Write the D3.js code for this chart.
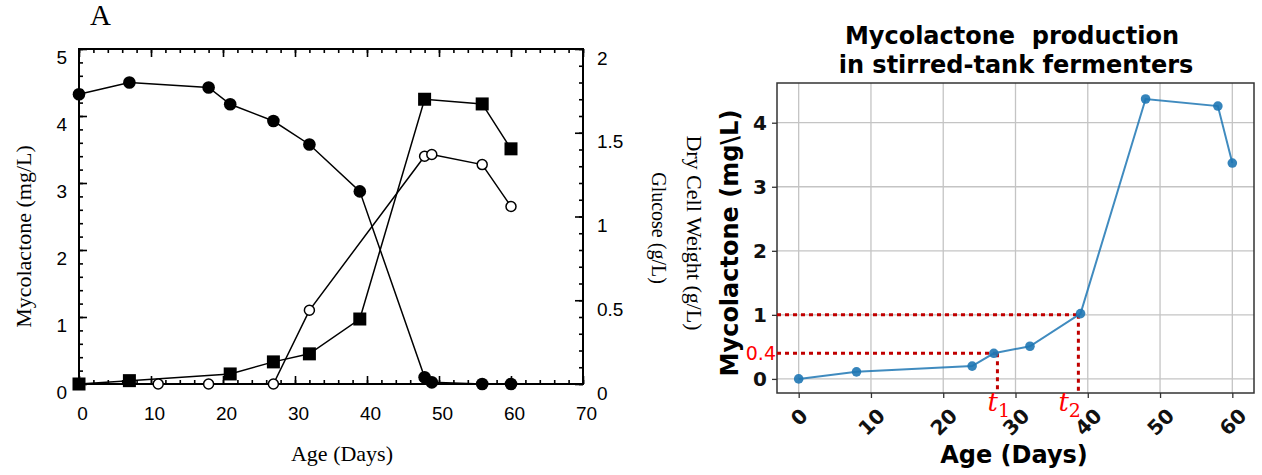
<!DOCTYPE html>
<html>
<head>
<meta charset="utf-8">
<script src="https://cdn.jsdelivr.net/npm/d3@7"></script>
<style>
  body { margin: 0; background: #fff; }
  svg { display: block; }
</style>
</head>
<body>
<div id="chart"></div>
<script>
// ---- panel A data ----
const glucoseDays = [0, 7, 18, 21, 27, 32, 39, 48, 49, 56, 60];
const glucose = [1.73, 1.80, 1.77, 1.67, 1.57, 1.43, 1.15, 0.04, 0.01, 0, 0];
const mycoDays = [0, 7, 21, 27, 32, 39, 48, 56, 60];
const mycolactoneA = [0, 0.05, 0.15, 0.33, 0.45, 0.97, 4.25, 4.18, 3.51];
const dcwDays = [11, 18, 27, 32, 48, 49, 56, 60];
const dryCellWeight = [0, 0, 0, 0.44, 1.36, 1.37, 1.31, 1.06];
const xTicksA = [0, 10, 20, 30, 40, 50, 60, 70];
const yLeftTicks = [0, 1, 2, 3, 4, 5];
const yRightTicks = [0, 0.5, 1, 1.5, 2];

// ---- right panel data ----
const daysB = [0, 8, 24, 27, 32, 39, 48, 58, 60];
const mycolactoneB = [0, 0.11, 0.2, 0.4, 0.51, 1.02, 4.37, 4.26, 3.37];
const xTicksB = [0, 10, 20, 30, 40, 50, 60];
const yTicksB = [0, 1, 2, 3, 4];
const thresholdValues = [0.4, 1];
const thresholdDays = [27.5, 38.7];
const thresholdNames = ["1", "2"];

const svg = d3.select("#chart").append("svg")
    .attr("width", 1262)
    .attr("height", 475);

// =================== panel A ===================
const A = { left: 79, right: 583, top: 49, bottom: 384 };
const serif = "'Liberation Serif', 'Times New Roman', serif";
const sans = "'Liberation Sans', Arial, Helvetica, sans-serif";

const xA = d3.scaleLinear().domain([0, 70]).range([A.left, A.right]);
const yL = d3.scaleLinear().domain([0, 5]).range([A.bottom, A.top]);
const yR = d3.scaleLinear().domain([0, 2]).range([A.bottom, A.top]);

const gA = svg.append("g");

function styleAxis(g, size) {
    g.selectAll("path").remove();
    g.selectAll("line").attr("stroke", "#000").attr("stroke-width", 1.6);
    g.selectAll("text").attr("font-family", sans).attr("font-size", size).attr("fill", "#000");
}

// minor ticks
gA.append("g").attr("transform", `translate(0,${A.bottom})`)
    .call(d3.axisBottom(xA).tickValues(d3.range(0, 70.01, 2)).tickSize(-4).tickFormat(""))
    .call(g => styleAxis(g, 0));
gA.append("g").attr("transform", `translate(0,${A.top})`)
    .call(d3.axisTop(xA).tickValues(d3.range(0, 70.01, 2)).tickSize(-4).tickFormat(""))
    .call(g => styleAxis(g, 0));
gA.append("g").attr("transform", `translate(${A.left},0)`)
    .call(d3.axisLeft(yL).tickValues(d3.range(0, 5.01, 0.2)).tickSize(-4).tickFormat(""))
    .call(g => styleAxis(g, 0));
gA.append("g").attr("transform", `translate(${A.right},0)`)
    .call(d3.axisRight(yR).tickValues(d3.range(0, 2.01, 0.1)).tickSize(-4).tickFormat(""))
    .call(g => styleAxis(g, 0));

// major ticks + labels
gA.append("g").attr("transform", `translate(0,${A.bottom})`)
    .call(d3.axisBottom(xA).tickValues(xTicksA).tickSize(-8).tickPadding(23).tickFormat(d3.format("d")))
    .call(g => styleAxis(g, 19))
    .call(g => g.selectAll("text").attr("dx", 3));
gA.append("g").attr("transform", `translate(0,${A.top})`)
    .call(d3.axisTop(xA).tickValues(xTicksA).tickSize(-8).tickFormat(""))
    .call(g => styleAxis(g, 0));
gA.append("g").attr("transform", `translate(${A.left},0)`)
    .call(d3.axisLeft(yL).tickValues(yLeftTicks).tickSize(-8).tickPadding(12).tickFormat(d3.format("d")))
    .call(g => styleAxis(g, 19))
    .call(g => g.selectAll("text").attr("dy", "0.78em"));
gA.append("g").attr("transform", `translate(${A.right},0)`)
    .call(d3.axisRight(yR).tickValues(yRightTicks).tickSize(-8).tickPadding(14).tickFormat(d3.format("")))
    .call(g => styleAxis(g, 19))
    .call(g => g.selectAll("text").attr("dy", "0.8em"));

// frame
gA.append("rect")
    .attr("x", A.left).attr("y", A.top)
    .attr("width", A.right - A.left).attr("height", A.bottom - A.top)
    .attr("fill", "none").attr("stroke", "#000").attr("stroke-width", 2);

// series lines
const lineA = (xs, ys, yScale) => d3.line()
    .x((d, i) => xA(xs[i]))
    .y(d => yScale(d))(ys);

gA.append("path").attr("d", lineA(glucoseDays, glucose, yR))
    .attr("fill", "none").attr("stroke", "#000").attr("stroke-width", 1.5);
gA.append("path").attr("d", lineA(mycoDays, mycolactoneA, yL))
    .attr("fill", "none").attr("stroke", "#000").attr("stroke-width", 1.5);
gA.append("path").attr("d", lineA(dcwDays, dryCellWeight, yR))
    .attr("fill", "none").attr("stroke", "#000").attr("stroke-width", 1.5);

// markers
gA.append("g").selectAll("circle")
    .data(dryCellWeight)
    .join("circle")
    .attr("cx", (d, i) => xA(dcwDays[i]))
    .attr("cy", d => yR(d))
    .attr("r", 5)
    .attr("fill", "#fff").attr("stroke", "#000").attr("stroke-width", 1.5);
gA.append("g").selectAll("rect")
    .data(mycolactoneA)
    .join("rect")
    .attr("x", (d, i) => xA(mycoDays[i]) - 6.5)
    .attr("y", d => yL(d) - 6.5)
    .attr("width", 13).attr("height", 13)
    .attr("fill", "#000");
gA.append("g").selectAll("circle")
    .data(glucose)
    .join("circle")
    .attr("cx", (d, i) => xA(glucoseDays[i]))
    .attr("cy", d => yR(d))
    .attr("r", 6.3)
    .attr("fill", "#000");

// texts
gA.append("text").attr("x", 90).attr("y", 25)
    .attr("font-family", serif).attr("font-size", 29).text("A");
gA.append("text")
    .attr("transform", `translate(31,${(A.top + A.bottom) / 2 + 20}) rotate(-90)`)
    .attr("text-anchor", "middle")
    .attr("font-family", serif).attr("font-size", 22)
    .text("Mycolactone (mg/L)");
gA.append("text")
    .attr("x", 342).attr("y", 461)
    .attr("text-anchor", "middle")
    .attr("font-family", serif).attr("font-size", 22)
    .text("Age (Days)");
gA.append("text")
    .attr("transform", `translate(687,233) rotate(90)`)
    .attr("text-anchor", "middle")
    .attr("font-family", serif).attr("font-size", 22)
    .text("Dry Cell Weight (g/L)");
gA.append("text")
    .attr("transform", `translate(652,228) rotate(90)`)
    .attr("text-anchor", "middle")
    .attr("font-family", serif).attr("font-size", 20)
    .text("Glucose (g/L)");

// =================== right panel ===================
const B = { left: 777, right: 1254, top: 83, bottom: 393 };
const dv = "'DejaVu Sans', sans-serif";
const xB = d3.scaleLinear().domain([-3, 63]).range([B.left, B.right]);
const yB = d3.scaleLinear().domain([-0.22, 4.62]).range([B.bottom, B.top]);

const gB = svg.append("g");

// grid
gB.append("g").selectAll("line")
    .data(xTicksB)
    .join("line")
    .attr("x1", d => xB(d)).attr("x2", d => xB(d))
    .attr("y1", B.top).attr("y2", B.bottom)
    .attr("stroke", "#c4c4c4").attr("stroke-width", 1.3);
gB.append("g").selectAll("line")
    .data(yTicksB)
    .join("line")
    .attr("x1", B.left).attr("x2", B.right)
    .attr("y1", d => yB(d)).attr("y2", d => yB(d))
    .attr("stroke", "#c4c4c4").attr("stroke-width", 1.3);

// axes
gB.append("g").attr("transform", `translate(0,${B.bottom})`)
    .call(d3.axisBottom(xB).tickValues(xTicksB).tickSize(5).tickSizeOuter(0).tickFormat(d3.format("d")))
    .call(g => {
        g.select(".domain").remove();
        g.selectAll("line").attr("stroke", "#333").attr("stroke-width", 1.3);
        g.selectAll("text")
            .attr("font-family", dv).attr("font-weight", "bold").attr("font-size", 20)
            .attr("fill", "#111")
            .attr("text-anchor", "middle")
            .attr("y", 0).attr("dy", "0.36em")
            .attr("transform", function () {
                const w = this.getComputedTextLength();
                return `translate(0,${14 + (w + 14) / 2.83}) rotate(-45)`;
            });
    });
gB.append("g").attr("transform", `translate(${B.left},0)`)
    .call(d3.axisLeft(yB).tickValues(yTicksB).tickSize(5).tickPadding(5).tickSizeOuter(0).tickFormat(d3.format("d")))
    .call(g => {
        g.select(".domain").remove();
        g.selectAll("line").attr("stroke", "#333").attr("stroke-width", 1.3);
        g.selectAll("text")
            .attr("font-family", dv).attr("font-weight", "bold").attr("font-size", 20)
            .attr("fill", "#111");
    });

// spines
gB.append("rect")
    .attr("x", B.left).attr("y", B.top)
    .attr("width", B.right - B.left).attr("height", B.bottom - B.top)
    .attr("fill", "none").attr("stroke", "#333").attr("stroke-width", 1.5);

// red dotted guides
const red = "#c00000";
thresholdValues.forEach((v, i) => {
    gB.append("line")
        .attr("x1", B.left).attr("x2", xB(thresholdDays[i]))
        .attr("y1", yB(v)).attr("y2", yB(v))
        .attr("stroke", red).attr("stroke-width", 3).attr("stroke-dasharray", "4,4");
    gB.append("line")
        .attr("x1", xB(thresholdDays[i])).attr("x2", xB(thresholdDays[i]))
        .attr("y1", yB(v)).attr("y2", B.bottom)
        .attr("stroke", red).attr("stroke-width", 3).attr("stroke-dasharray", "4,4");
    const t = gB.append("text")
        .attr("x", xB(thresholdDays[i]) - (i === 0 ? 10 : 20))
        .attr("y", 411)
        .attr("font-family", "'DejaVu Serif', serif").attr("font-style", "italic")
        .attr("font-size", 26).attr("fill", "#ff0000");
    t.append("tspan").text("t");
    t.append("tspan").attr("font-size", 19).attr("font-style", "normal").attr("dy", 6).text(thresholdNames[i]);
});
gB.append("text")
    .attr("x", B.left - 1).attr("y", yB(thresholdValues[0]))
    .attr("dy", "0.36em")
    .attr("text-anchor", "end")
    .attr("font-family", dv).attr("font-size", 19).attr("fill", "#ff0000")
    .text("0.4");

// data line
gB.append("path")
    .attr("d", d3.line().x((d, i) => xB(daysB[i])).y(d => yB(d))(mycolactoneB))
    .attr("fill", "none").attr("stroke", "#1f77b4").attr("stroke-opacity", 0.85).attr("stroke-width", 2);
gB.append("g").selectAll("circle")
    .data(mycolactoneB)
    .join("circle")
    .attr("cx", (d, i) => xB(daysB[i]))
    .attr("cy", d => yB(d))
    .attr("r", 4.8)
    .attr("fill", "#1f77b4").attr("fill-opacity", 0.9);

// titles
gB.append("text").attr("x", 1012).attr("y", 44)
    .attr("text-anchor", "middle").attr("font-family", dv).attr("font-weight", "bold")
    .attr("font-size", 24).style("white-space", "pre")
    .text("Mycolactone  production");
gB.append("text").attr("x", 1016).attr("y", 73)
    .attr("text-anchor", "middle").attr("font-family", dv).attr("font-weight", "bold")
    .attr("font-size", 24)
    .text("in stirred-tank fermenters");
gB.append("text").attr("x", 1014).attr("y", 463)
    .attr("text-anchor", "middle").attr("font-family", dv).attr("font-weight", "bold")
    .attr("font-size", 24)
    .text("Age (Days)");
gB.append("text")
    .attr("transform", `translate(738,243) rotate(-90)`)
    .attr("text-anchor", "middle").attr("font-family", dv).attr("font-weight", "bold")
    .attr("font-size", 24)
    .text("Mycolactone (mg\\L)");
</script>
</body>
</html>
